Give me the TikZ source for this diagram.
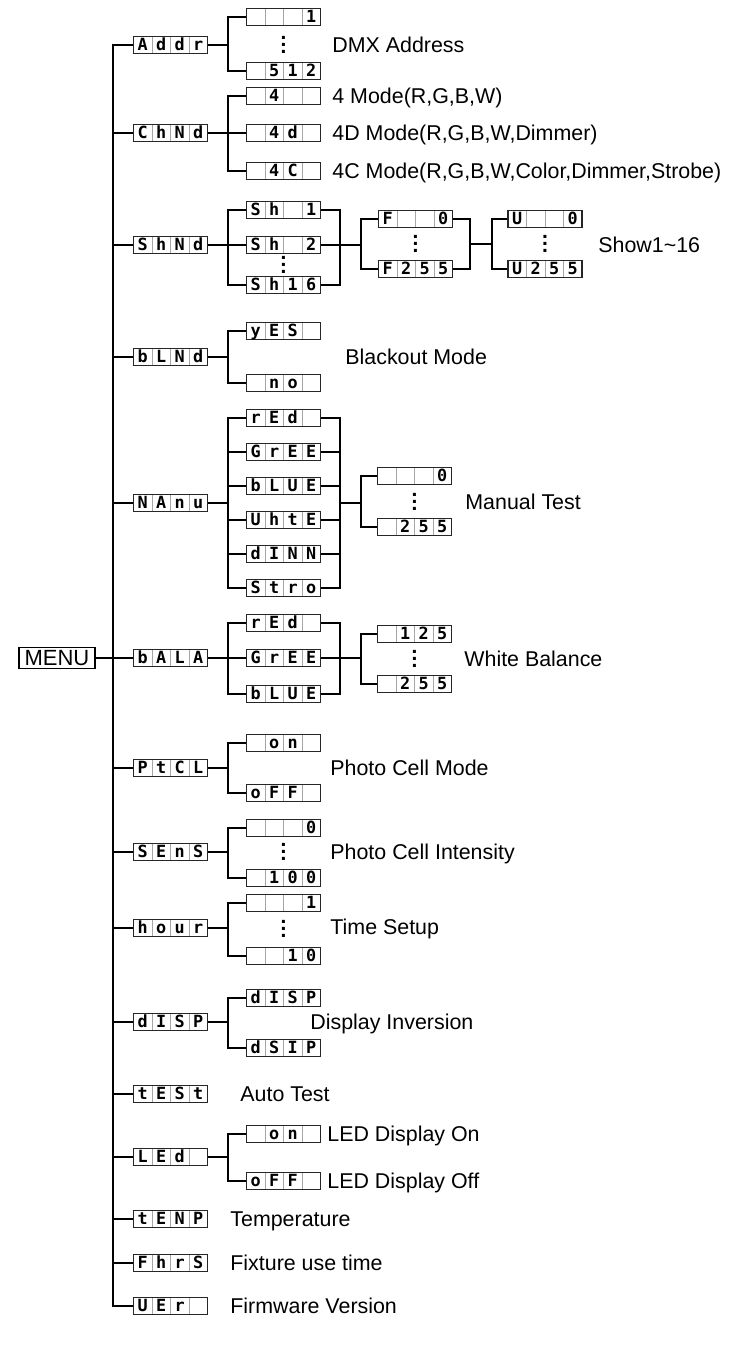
\documentclass[tikz,border=0pt]{standalone}
\usepackage{fontspec}
\setmainfont{Liberation Sans}
\newfontfamily\segfont{DejaVu Sans Mono}
\usetikzlibrary{calc,positioning}

\newcommand{\cells}[4]{\makebox[9.25pt]{#1}\makebox[9.25pt]{#2}\makebox[9.25pt]{#3}\makebox[9.25pt]{#4}}
\newcommand{\vdotz}{\vbox{\baselineskip3.3pt\lineskiplimit-10pt\hbox{.}\hbox{.}\hbox{.}}}

\begin{document}
\begin{tikzpicture}[x=0.5pt, y=-0.5pt,
    lcd/.style={draw=black!85, line width=0.7pt, minimum width=37pt, minimum height=8.5pt, inner sep=0pt,
        text height=5.8pt, text depth=0.6pt, font=\segfont\bfseries\fontsize{8.4}{8.4}\selectfont,
        path picture={\foreach \k in {1,2,3} \draw[black!35, line width=0.5pt]
            ($(path picture bounding box.south west)!\k/4!(path picture bounding box.south east)$) --
            ($(path picture bounding box.north west)!\k/4!(path picture bounding box.north east)$);}},
    menubox/.style={draw, line width=0.7pt, minimum width=38pt, minimum height=10.5pt, inner sep=0pt, font=\fontsize{11}{12}\selectfont},
    lbl/.style={anchor=west, inner sep=0pt, text height=7.6pt, text depth=0pt, font=\fontsize{10.7}{12}\selectfont},
    vdotcol/.style={inner sep=0pt, font=\fontsize{10.5}{12}\selectfont\bfseries},
    wire/.style={line width=1pt}
]
    \useasboundingbox (0,0) rectangle (742,1347);

    % bracket columns
    \coordinate (t) at (113,0);
    \coordinate (b) at (228,0);
    \coordinate (r) at (340,0);
    \coordinate (b3) at (361,0);
    \coordinate (r3) at (470,0);
    \coordinate (b4) at (492,0);

    % menu and first level
    \node[menubox] (menu) at (57,658) {MENU};
    \node[lcd] (addr) at (170.5,45) {\cells{A}{d}{d}{r}};
    \node[lcd] (chnd) at (170.5,133) {\cells{C}{h}{N}{d}};
    \node[lcd] (shnd) at (170.5,245) {\cells{S}{h}{N}{d}};
    \node[lcd] (blnd) at (170.5,357) {\cells{b}{L}{N}{d}};
    \node[lcd] (nanu) at (170.5,503) {\cells{N}{A}{n}{u}};
    \node[lcd] (bala) at (170.5,658) {\cells{b}{A}{L}{A}};
    \node[lcd] (ptcl) at (170.5,768) {\cells{P}{t}{C}{L}};
    \node[lcd] (sens) at (170.5,852) {\cells{S}{E}{n}{S}};
    \node[lcd] (hour) at (170.5,928) {\cells{h}{o}{u}{r}};
    \node[lcd] (disp) at (170.5,1022) {\cells{d}{I}{S}{P}};
    \node[lcd] (test) at (170.5,1094) {\cells{t}{E}{S}{t}};
    \node[lcd] (led) at (170.5,1157) {\cells{L}{E}{d}{}};
    \node[lcd] (tenp) at (170.5,1219) {\cells{t}{E}{N}{P}};
    \node[lcd] (fhrs) at (170.5,1263) {\cells{F}{h}{r}{S}};
    \node[lcd] (ver) at (170.5,1306) {\cells{U}{E}{r}{}};

    \draw[wire] (addr.west) -- (addr.west -| t) -- (ver.west -| t) -- (ver.west);
    \draw[wire] (menu.east) -- (bala.west);
    \draw[wire] (chnd.west) -- (chnd.west -| t);
    \draw[wire] (shnd.west) -- (shnd.west -| t);
    \draw[wire] (blnd.west) -- (blnd.west -| t);
    \draw[wire] (nanu.west) -- (nanu.west -| t);
    \draw[wire] (ptcl.west) -- (ptcl.west -| t);
    \draw[wire] (sens.west) -- (sens.west -| t);
    \draw[wire] (hour.west) -- (hour.west -| t);
    \draw[wire] (disp.west) -- (disp.west -| t);
    \draw[wire] (test.west) -- (test.west -| t);
    \draw[wire] (led.west) -- (led.west -| t);
    \draw[wire] (tenp.west) -- (tenp.west -| t);
    \draw[wire] (fhrs.west) -- (fhrs.west -| t);

    % DMX address
    \node[lcd] (a1) at (283.5,17) {\cells{}{}{}{1}};
    \node[vdotcol] (adots) at (283.5,45) {\vdotz};
    \node[lcd] (a512) at (283.5,71) {\cells{}{5}{1}{2}};
    \node[lbl] (addrtxt) at (332,45) {DMX Address};
    \draw[wire] (addr.east) -- (addr.east -| b);
    \draw[wire] (a1.west) -- (a1.west -| b) -- (a512.west -| b) -- (a512.west);

    % channel mode
    \node[lcd] (m4) at (283.5,96) {\cells{}{4}{}{}};
    \node[lcd] (m4d) at (283.5,133) {\cells{}{4}{d}{}};
    \node[lcd] (m4c) at (283.5,171) {\cells{}{4}{C}{}};
    \node[lbl] (m4txt) at (332,96) {4 Mode(R,G,B,W)};
    \node[lbl] (m4dtxt) at (332,133) {4D Mode(R,G,B,W,Dimmer)};
    \node[lbl] (m4ctxt) at (332,171) {4C Mode(R,G,B,W,Color,Dimmer,Strobe)};
    \draw[wire] (chnd.east) -- (m4d.west);
    \draw[wire] (m4.west) -- (m4.west -| b) -- (m4c.west -| b) -- (m4c.west);

    % shows
    \node[lcd] (sh1) at (283.5,210) {\cells{S}{h}{}{1}};
    \node[lcd] (sh2) at (283.5,245) {\cells{S}{h}{}{2}};
    \node[vdotcol] (shdots) at (283.5,265) {\vdotz};
    \node[lcd] (sh16) at (283.5,285) {\cells{S}{h}{1}{6}};
    \node[lcd] (f0) at (415.5,219) {\cells{F}{}{}{0}};
    \node[vdotcol] (fdots) at (415.5,244) {\vdotz};
    \node[lcd] (f255) at (415.5,269) {\cells{F}{2}{5}{5}};
    \node[lcd] (u0) at (545,219) {\cells{U}{}{}{0}};
    \node[vdotcol] (udots) at (545,244) {\vdotz};
    \node[lcd] (u255) at (545,269) {\cells{U}{2}{5}{5}};
    \node[lbl] (showtxt) at (598,245) {Show1\textasciitilde16};
    \draw[wire] (shnd.east) -- (sh2.west);
    \draw[wire] (sh1.west) -- (sh1.west -| b) -- (sh16.west -| b) -- (sh16.west);
    \draw[wire] (sh1.east) -- (sh1.east -| r) -- (sh16.east -| r) -- (sh16.east);
    \draw[wire] (sh2.east) -- (sh2.east -| b3);
    \draw[wire] (f0.west) -- (f0.west -| b3) -- (f255.west -| b3) -- (f255.west);
    \draw[wire] (f0.east) -- (f0.east -| r3) -- (f255.east -| r3) -- (f255.east);
    \draw[wire] (fdots -| r3) -- (fdots -| b4);
    \draw[wire] (u0.west) -- (u0.west -| b4) -- (u255.west -| b4) -- (u255.west);

    % blackout
    \node[lcd] (yes) at (283.5,331) {\cells{y}{E}{S}{}};
    \node[lcd] (no) at (283.5,383) {\cells{}{n}{o}{}};
    \node[lbl] (blndtxt) at (345,357) {Blackout Mode};
    \draw[wire] (blnd.east) -- (blnd.east -| b);
    \draw[wire] (yes.west) -- (yes.west -| b) -- (no.west -| b) -- (no.west);

    % manual test
    \node[lcd] (mred) at (283.5,418) {\cells{r}{E}{d}{}};
    \node[lcd] (mgree) at (283.5,452) {\cells{G}{r}{E}{E}};
    \node[lcd] (mblue) at (283.5,486) {\cells{b}{L}{U}{E}};
    \node[lcd] (mwhte) at (283.5,520) {\cells{U}{h}{t}{E}};
    \node[lcd] (mdinn) at (283.5,554) {\cells{d}{I}{N}{N}};
    \node[lcd] (mstro) at (283.5,588) {\cells{S}{t}{r}{o}};
    \node[lcd] (v0) at (414.5,476) {\cells{}{}{}{0}};
    \node[vdotcol] (vdots) at (414.5,502) {\vdotz};
    \node[lcd] (v255) at (414.5,527) {\cells{}{2}{5}{5}};
    \node[lbl] (nanutxt) at (465,502) {Manual Test};
    \draw[wire] (nanu.east) -- (nanu.east -| b);
    \draw[wire] (mred.west) -- (mred.west -| b) -- (mstro.west -| b) -- (mstro.west);
    \draw[wire] (mgree.west) -- (mgree.west -| b);
    \draw[wire] (mblue.west) -- (mblue.west -| b);
    \draw[wire] (mwhte.west) -- (mwhte.west -| b);
    \draw[wire] (mdinn.west) -- (mdinn.west -| b);
    \draw[wire] (mred.east) -- (mred.east -| r) -- (mstro.east -| r) -- (mstro.east);
    \draw[wire] (mgree.east) -- (mgree.east -| r);
    \draw[wire] (mblue.east) -- (mblue.east -| r);
    \draw[wire] (mwhte.east) -- (mwhte.east -| r);
    \draw[wire] (mdinn.east) -- (mdinn.east -| r);
    \draw[wire] (nanu -| r) -- (nanu -| b3);
    \draw[wire] (v0.west) -- (v0.west -| b3) -- (v255.west -| b3) -- (v255.west);

    % white balance
    \node[lcd] (wred) at (283.5,623) {\cells{r}{E}{d}{}};
    \node[lcd] (wgree) at (283.5,658) {\cells{G}{r}{E}{E}};
    \node[lcd] (wblue) at (283.5,694) {\cells{b}{L}{U}{E}};
    \node[lcd] (w125) at (414.5,634) {\cells{}{1}{2}{5}};
    \node[vdotcol] (wdots) at (414.5,659) {\vdotz};
    \node[lcd] (w255) at (414.5,684) {\cells{}{2}{5}{5}};
    \node[lbl] (balatxt) at (464,659) {White Balance};
    \draw[wire] (bala.east) -- (wgree.west);
    \draw[wire] (wred.west) -- (wred.west -| b) -- (wblue.west -| b) -- (wblue.west);
    \draw[wire] (wred.east) -- (wred.east -| r) -- (wblue.east -| r) -- (wblue.east);
    \draw[wire] (wgree.east) -- (wgree.east -| b3);
    \draw[wire] (w125.west) -- (w125.west -| b3) -- (w255.west -| b3) -- (w255.west);

    % photo cell
    \node[lcd] (pon) at (283.5,743) {\cells{}{o}{n}{}};
    \node[lcd] (poff) at (283.5,793) {\cells{o}{F}{F}{}};
    \node[lbl] (ptcltxt) at (330,768) {Photo Cell Mode};
    \draw[wire] (ptcl.east) -- (ptcl.east -| b);
    \draw[wire] (pon.west) -- (pon.west -| b) -- (poff.west -| b) -- (poff.west);

    \node[lcd] (s0) at (283.5,828) {\cells{}{}{}{0}};
    \node[vdotcol] (sdots) at (283.5,852) {\vdotz};
    \node[lcd] (s100) at (283.5,878) {\cells{}{1}{0}{0}};
    \node[lbl] (senstxt) at (330,852) {Photo Cell Intensity};
    \draw[wire] (sens.east) -- (sens.east -| b);
    \draw[wire] (s0.west) -- (s0.west -| b) -- (s100.west -| b) -- (s100.west);

    % time
    \node[lcd] (h1) at (283.5,903) {\cells{}{}{}{1}};
    \node[vdotcol] (hdots) at (283.5,929) {\vdotz};
    \node[lcd] (h10) at (283.5,956) {\cells{}{}{1}{0}};
    \node[lbl] (hourtxt) at (330,927) {Time Setup};
    \draw[wire] (hour.east) -- (hour.east -| b);
    \draw[wire] (h1.west) -- (h1.west -| b) -- (h10.west -| b) -- (h10.west);

    % display
    \node[lcd] (d1) at (283.5,998) {\cells{d}{I}{S}{P}};
    \node[lcd] (d2) at (283.5,1048) {\cells{d}{S}{I}{P}};
    \node[lbl] (disptxt) at (310,1022) {Display Inversion};
    \draw[wire] (disp.east) -- (disp.east -| b);
    \draw[wire] (d1.west) -- (d1.west -| b) -- (d2.west -| b) -- (d2.west);

    \node[lbl] (testtxt) at (240,1094) {Auto Test};

    % led
    \node[lcd] (lon) at (283.5,1134) {\cells{}{o}{n}{}};
    \node[lcd] (loff) at (283.5,1181) {\cells{o}{F}{F}{}};
    \node[lbl] (lontxt) at (327,1134) {LED Display On};
    \node[lbl] (lofftxt) at (327,1181) {LED Display Off};
    \draw[wire] (led.east) -- (led.east -| b);
    \draw[wire] (lon.west) -- (lon.west -| b) -- (loff.west -| b) -- (loff.west);

    \node[lbl] (tenptxt) at (230,1219) {Temperature};
    \node[lbl] (fhrstxt) at (230,1263) {Fixture use time};
    \node[lbl] (vertxt) at (230,1306) {Firmware Version};
\end{tikzpicture}
\end{document}
